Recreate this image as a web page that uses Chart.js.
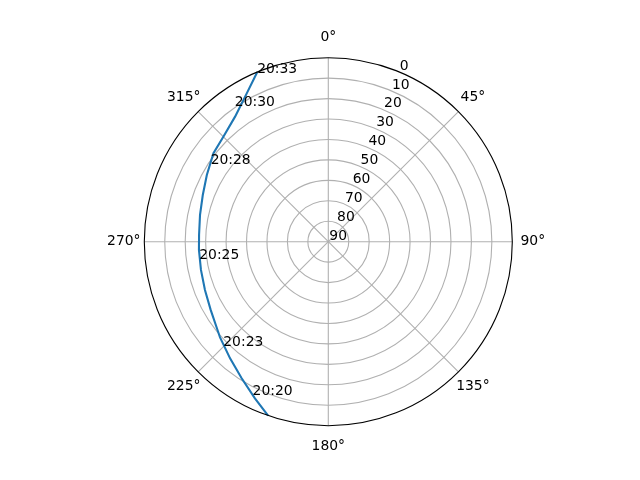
<!DOCTYPE html>
<html lang="en">
<head>
    <meta charset="UTF-8">
    <title>Satellite pass</title>
    <style>
        body { margin: 0; background: #fff; }
    </style>
</head>
<body>
<canvas id="myChart" width="640" height="480"></canvas>

<script src="https://cdn.jsdelivr.net/npm/chart.js@4.4.0/dist/chart.umd.min.js"></script>
<script>

// pass track: azimuth (deg, clockwise from north) and elevation (deg)
var azimuth   = [199.1, 205.1, 212.4, 220.1, 228.5, 239.9, 248.6, 257.5, 266.3, 273.0, 281.8, 290.4, 298.8, 307.6, 315.0, 323.3, 331.2, 337.3];
var elevation = [0,     5.4,   10.9,  15.4,  19.3,  23.5,  25.2,  26.2,  26.6,  26.7,  25.9,  24.5,  22.2,  19.1,  17.4,  13.7,  7.2,   0];

// time marks along the track
var markTimes = ['20:20', '20:23', '20:25', '20:28', '20:30', '20:33'];
var markAz    = [206.3, 225.2, 262.4, 303.5, 325.5, 337.1];
var markEl    = [6.4,   17.6,  26.3,  21.0,  9.3,   0.6];

// axis ticks
var angleTicks = [0, 45, 90, 135, 180, 225, 270, 315];
var elevTicks  = [0, 10, 20, 30, 40, 50, 60, 70, 80, 90];

var FONT = '13.9px "DejaVu Sans", sans-serif';

// elevation 90 at the centre, 0 on the rim
function toXY(az, el) {
    var r = 90 - el;
    var a = az * Math.PI / 180;
    return { x: r * Math.sin(a), y: r * Math.cos(a) };
}

var track = azimuth.map(function (az, i) {
    return toXY(az, elevation[i]);
});

function geom(chart) {
    var xs = chart.scales.x, ys = chart.scales.y;
    var cx = xs.getPixelForValue(0), cy = ys.getPixelForValue(0);
    return {
        cx: cx,
        cy: cy,
        rad: function (v) { return xs.getPixelForValue(90 - v) - cx; },
        px: function (az, el) {
            var p = toXY(az, el);
            return { x: xs.getPixelForValue(p.x), y: ys.getPixelForValue(p.y) };
        }
    };
}

var polarGrid = {
    id: 'polarGrid',
    beforeDatasetsDraw: function (chart) {
        var ctx = chart.ctx, g = geom(chart);
        ctx.save();
        ctx.strokeStyle = '#b0b0b0';
        ctx.lineWidth = 1.1;
        // rings
        elevTicks.forEach(function (v) {
            var r = g.rad(v);
            if (r <= 0 || v === 0) return;
            ctx.beginPath();
            ctx.arc(g.cx, g.cy, r, 0, Math.PI * 2);
            ctx.stroke();
        });
        // spokes
        angleTicks.forEach(function (a) {
            var p = g.px(a, 0);
            ctx.beginPath();
            ctx.moveTo(g.cx, g.cy);
            ctx.lineTo(p.x, p.y);
            ctx.stroke();
        });
        ctx.restore();
    },
    afterDatasetsDraw: function (chart) {
        var ctx = chart.ctx, g = geom(chart);
        var R = g.rad(0);
        ctx.save();
        // outer rim
        ctx.strokeStyle = '#000';
        ctx.lineWidth = 1.1;
        ctx.beginPath();
        ctx.arc(g.cx, g.cy, R, 0, Math.PI * 2);
        ctx.stroke();

        ctx.fillStyle = '#000';
        ctx.font = FONT;

        // angle labels
        ctx.textAlign = 'center';
        ctx.textBaseline = 'middle';
        angleTicks.forEach(function (a) {
            var t = a * Math.PI / 180;
            ctx.fillText(a + '°', g.cx + (R + 20.5) * Math.sin(t), g.cy - (R + 20.5) * Math.cos(t));
        });

        // elevation labels along 22.5 deg
        ctx.textAlign = 'left';
        ctx.textBaseline = 'alphabetic';
        elevTicks.forEach(function (v) {
            var p = g.px(22.5, v);
            ctx.fillText(String(v), p.x + 1, p.y - 2);
        });

        // time marks
        markTimes.forEach(function (txt, i) {
            var p = g.px(markAz[i], markEl[i]);
            ctx.fillText(txt, p.x, p.y);
        });
        ctx.restore();
    }
};

var ctx = document.getElementById('myChart').getContext('2d');
var myChart = new Chart(ctx, {
    type: 'scatter',
    data: {
        datasets: [{
            data: track,
            showLine: true,
            borderColor: '#1f77b4',
            borderWidth: 2.1,
            pointRadius: 0,
            tension: 0,
            fill: false
        }]
    },
    options: {
        responsive: false,
        animation: false,
        layout: { padding: { left: 144.3, right: 127.7, top: 57.7, bottom: 54.3 } },
        scales: {
            x: { type: 'linear', min: -90, max: 90, display: false },
            y: { type: 'linear', min: -90, max: 90, display: false }
        },
        plugins: {
            legend: { display: false },
            tooltip: { enabled: false }
        }
    },
    plugins: [polarGrid]
});

</script>
</body>
</html>
